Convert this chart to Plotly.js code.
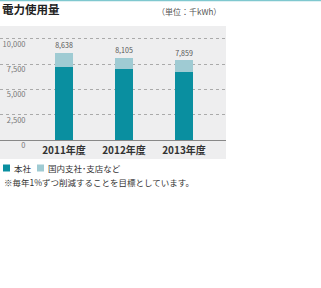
<!DOCTYPE html>
<html><head><meta charset="utf-8">
<script src="https://cdn.plot.ly/plotly-3.0.1.min.js"></script>
<style>html,body{margin:0;padding:0;background:#fff}#chart{width:321px;height:288px}</style>
</head><body><div id="chart"></div>
<script>
const years = ["2011年度", "2012年度", "2013年度"];
const totals = [8638, 8105, 7859];
const honsha = [7230, 6980, 6740];
const kokunai = totals.map((t, i) => t - honsha[i]);
const yTicks = [0, 2500, 5000, 7500, 10000];
const yTickText = ["0", "2,500", "5,000", "7,500", "10,000"];
const seriesNames = ["本社", "国内支社･支店など"];
const colors = ["#0a8fa0", "#9fcbd3"];
const noteText = "※毎年1%ずつ削減することを目標としています。";
const unitText = "（単位：千kWh）";
const titleText = "電力使用量";

const FONT = "'Noto Sans CJK JP', 'Noto Sans', sans-serif";
const xIdx = years.map((_, i) => i);
const TOP = 26, BOT = 159, H = BOT - TOP, PW = 226;
const Y_RANGE = [-1876, 11254];
function py(p) { return (BOT - p) / H; }
function px(p) { return p / PW; }

const traces = [
  {type: "bar", x: xIdx, y: honsha, name: seriesNames[0], marker: {color: colors[0]}, width: 0.295, hoverinfo: "skip"},
  {type: "bar", x: xIdx, y: kokunai, name: seriesNames[1], marker: {color: colors[1]}, width: 0.295, hoverinfo: "skip",
   text: totals.map(v => v.toLocaleString("en-US")), textposition: "outside", cliponaxis: false,
   textfont: {size: 7.5, color: "#555", family: FONT}},
  {type: "scatter", mode: "markers", x: [null], y: [null], yaxis: "y2", hoverinfo: "skip", showlegend: false}
];

// legend drawn as squares + labels
const legendShapes = [], legendAnn = [];
const legX = [3, 37];
seriesNames.forEach((n, i) => {
  legendShapes.push({type: "rect", xref: "paper", yref: "paper", x0: px(legX[i]), x1: px(legX[i] + 7), y0: py(171.5), y1: py(164.5),
                     fillcolor: colors[i], line: {width: 0}});
  legendAnn.push({xref: "paper", yref: "paper", x: px(legX[i] + 9), y: py(168), xanchor: "left", yanchor: "middle", text: n,
                  showarrow: false, font: {size: 8.5, color: "#333", family: FONT}});
});

const layout = {
  width: 321, height: 288,
  margin: {l: 0, r: 321 - PW, t: TOP, b: 288 - BOT, pad: 0},
  paper_bgcolor: "#ffffff", plot_bgcolor: "#eeeeef",
  font: {family: FONT, color: "#333"},
  barmode: "stack",
  showlegend: false,
  title: {text: "<b>" + titleText + "</b>", x: 0.006, xanchor: "left", xref: "container", y: 1 - 10/288, yanchor: "middle", yref: "container",
          font: {size: 11.5, color: "#222", family: FONT}},
  xaxis: {range: [-1.067, 2.7], tickvals: xIdx, ticktext: years.map(s => "<b>" + s + "</b>"), showgrid: false, zeroline: false,
          showline: false, ticks: "", ticklabelposition: "inside", tickfont: {size: 10, color: "#333", family: FONT}, fixedrange: true},
  yaxis: {range: Y_RANGE, tickvals: yTicks, showticklabels: false, showgrid: true, gridcolor: "#aaa", griddash: "dot", gridwidth: 1,
          zeroline: true, zerolinecolor: "#888", zerolinewidth: 1, showline: false, ticks: "", fixedrange: true},
  yaxis2: {range: Y_RANGE, overlaying: "y", anchor: "free", side: "left", position: px(26.5), tickvals: yTicks, ticktext: yTickText,
           showgrid: false, zeroline: false, showline: false, ticks: "", ticklabelposition: "outside bottom", ticklabelstandoff: 1,
           tickfont: {size: 7.5, color: "#777", family: FONT}, fixedrange: true},
  shapes: [
    {type: "line", xref: "paper", yref: "paper", x0: 0, x1: 321/PW, y0: py(0.5), y1: py(0.5), line: {color: "#7fc8cf", width: 1.5}}
  ].concat(legendShapes),
  annotations: [
    {xref: "paper", yref: "paper", x: px(223), y: py(12), xanchor: "right", yanchor: "middle", text: unitText, showarrow: false,
     font: {size: 8, color: "#555", family: FONT}},
    {xref: "paper", yref: "paper", x: px(2), y: py(182), xanchor: "left", yanchor: "middle", text: noteText, showarrow: false,
     font: {size: 8.5, color: "#333", family: FONT}}
  ].concat(legendAnn)
};

Plotly.newPlot("chart", traces, layout, {displayModeBar: false, staticPlot: true});
</script></body></html>
